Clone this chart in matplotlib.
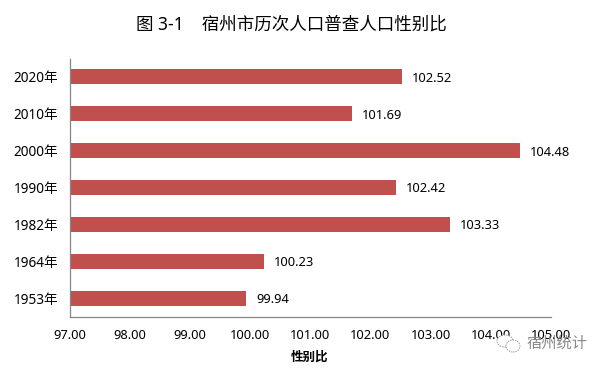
import matplotlib
matplotlib.use("Agg")
import matplotlib.pyplot as plt
from matplotlib.patches import Ellipse

plt.rcParams['font.family'] = ['Noto Sans', 'Noto Sans CJK SC', 'DejaVu Sans']

# census years, bottom to top
years = ['1953年', '1964年', '1982年', '1990年', '2000年', '2010年', '2020年']
sex_ratio = [99.94, 100.23, 103.33, 102.42, 104.48, 101.69, 102.52]
x_ticks = [97, 98, 99, 100, 101, 102, 103, 104, 105]

W, H = 606, 370
BAR_COLOR = '#C0504D'
AXIS_COLOR = '#868686'
TEXT_COLOR = '#000000'

fig = plt.figure(figsize=(W / 100, H / 100), dpi=100, facecolor='white')
ax = fig.add_axes([69.5 / W, 1 - 316.5 / H, (551 - 69.5) / W, (316.5 - 58.5) / H])

ax.barh(years, sex_ratio, height=0.405, color=BAR_COLOR)
ax.set_xlim(97, 105)
ax.set_ylim(-0.5, len(years) - 0.5)

ax.set_xticks(x_ticks)
ax.set_xticklabels([f'{t:.2f}' for t in x_ticks], fontsize=9.3, color=TEXT_COLOR)
ax.tick_params(axis='x', length=0, pad=9)
ax.tick_params(axis='y', length=0, pad=8, labelsize=9.8, labelcolor=TEXT_COLOR)

for side in ['top', 'right']:
    ax.spines[side].set_visible(False)
for side in ['left', 'bottom']:
    ax.spines[side].set_color(AXIS_COLOR)
    ax.spines[side].set_linewidth(0.9)

# value labels next to the bars
for i, v in enumerate(sex_ratio):
    ax.annotate(f'{v:.2f}', (v, i), xytext=(7, -1), textcoords='offset points',
                va='center', ha='left', fontsize=9.3, color=TEXT_COLOR)

fig.text(291.5 / W, 1 - 25 / H, '图 3-1    宿州市历次人口普查人口性别比', ha='center', va='center',
         fontsize=12.6, fontweight='medium', color=TEXT_COLOR)
fig.text(310 / W, 1 - 357 / H, '性别比', ha='center', va='center', fontsize=9,
         fontweight='bold', color=TEXT_COLOR)

# watermark on top of the last tick labels
fig.text(557.5 / W, 1 - 344.5 / H, '宿州统计', ha='center', va='center', fontsize=11,
         color='#8a8a8a')
fig.add_artist(Ellipse((505 / W, 1 - 341 / H), 16 / W, 12 / H, fill=True, fc='white', ec='#999999',
                       lw=0.7, ls=(0, (1.5, 1)), transform=fig.transFigure))
fig.add_artist(Ellipse((513 / W, 1 - 346 / H), 14 / W, 12 / H, fill=True, fc='white', ec='#999999',
                       lw=0.7, ls=(0, (1.5, 1)), transform=fig.transFigure))

fig.savefig('out.png', dpi=100)
